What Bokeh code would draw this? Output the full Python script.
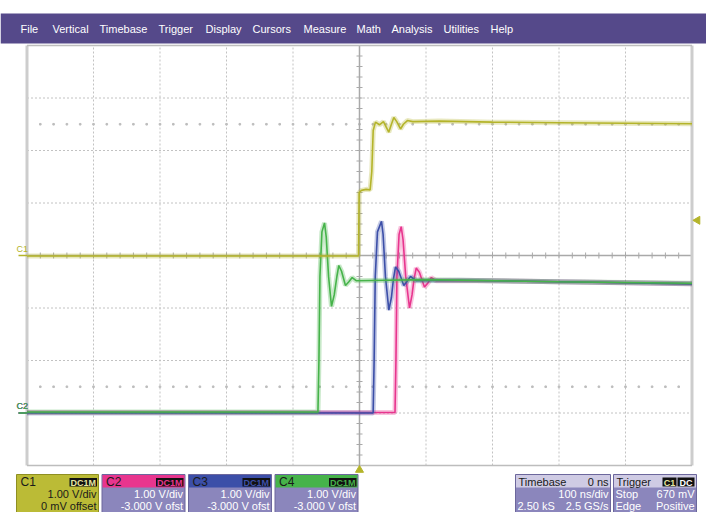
import math
from bokeh.plotting import figure
from bokeh.models import Range1d, Label
from bokeh.embed import file_html
from bokeh.resources import INLINE

# ---------------- data ----------------
ns_per_div = 100.0
volts_per_div = 1.0
n_xdiv = 10
n_ydiv = 8
offset_c1 = 0.0
offset_c234 = -3.0
trigger_level_v = 0.67
trigger_time_ns = 0.0

# C1 (yellow) time [ns] / volts
t_c1 = [-500, -1.5, -0.5, 3, 10, 16, 18.5, 20.6, 24, 30, 36, 40, 44, 48, 51.6, 56, 61.7, 66, 72, 80, 120, 200, 300, 400, 500]
v_c1 = [-0.01, -0.01, 1.20, 1.24, 1.26, 1.25, 1.60, 2.38, 2.54, 2.49, 2.55, 2.45, 2.35, 2.50, 2.63, 2.55, 2.41, 2.50, 2.57, 2.55, 2.56, 2.54, 2.53, 2.52, 2.51]

# C2 (pink)
t_c2 = [-500, 53.4, 54.8, 56.3, 59.5, 62.7, 65.5, 69.5, 75.2, 79, 82, 85.3, 90, 97.7, 102.5, 108, 115, 200, 350, 500]
v_c2 = [0.01, 0.01, 1.0, 2.6, 3.40, 3.55, 3.30, 2.60, 2.00, 2.25, 2.55, 2.76, 2.68, 2.40, 2.47, 2.58, 2.52, 2.52, 2.49, 2.46]

# C3 (blue)
t_c3 = [-500, 20.5, 22, 23.7, 27, 33.1, 35.5, 39, 44.1, 48, 51, 54.1, 59, 66.6, 71, 76.7, 85, 150, 350, 500]
v_c3 = [0.00, 0.00, 1.0, 2.6, 3.45, 3.65, 3.40, 2.60, 1.96, 2.20, 2.55, 2.78, 2.70, 2.43, 2.50, 2.60, 2.52, 2.53, 2.49, 2.46]

# C4 (green)
t_c4 = [-500, -62.5, -61, -59.5, -56.5, -52.6, -50, -46.5, -42.1, -38, -34, -31.1, -27, -21.1, -16, -11, -5, 100, 300, 500]
v_c4 = [0.02, 0.02, 1.0, 2.6, 3.45, 3.62, 3.35, 2.60, 2.03, 2.25, 2.60, 2.81, 2.70, 2.43, 2.50, 2.58, 2.52, 2.54, 2.50, 2.47]

menu_items = ["File", "Vertical", "Timebase", "Trigger", "Display", "Cursors",
              "Measure", "Math", "Analysis", "Utilities", "Help"]

ch_names = ["C1", "C2", "C3", "C4"]
ch_vdiv = ["1.00 V/div", "1.00 V/div", "1.00 V/div", "1.00 V/div"]
ch_offs = ["0 mV offset", "-3.000 V ofst", "-3.000 V ofst", "-3.000 V ofst"]
ch_coupling = ["DC1M", "DC1M", "DC1M", "DC1M"]
tb_texts = ["Timebase", "0 ns", "100 ns/div", "2.50 kS", "2.5 GS/s"]
trig_texts = ["Trigger", "C1", "DC", "Stop", "670 mV", "Edge", "Positive"]

# ---------------- layout ----------------
W, H = 706, 512
PX, PY = 0, 0          # page offset of the canvas
CX, CY = 359.0, 255.0  # position of grid centre
DX, DY = 66.5, 52.5    # pixels per division

FONT = "Liberation Sans"
YEL = "#b4b42a"
PINK = "#e8358e"
BLUE = "#3c4fa8"
GREEN = "#46b34a"
BODY = "#8b86bc"
HEAD = "#cfcbe4"
EDGE = "#6c679c"
MENU = "#55498a"

ROW2 = 493.5
ROW3 = 505.0


def tx(px):
    return (px - CX) / DX * ns_per_div


def ty(py):
    return (CY - py) / DY


p = figure(width=W, height=H, x_range=Range1d(tx(PX), tx(PX + W)),
           y_range=Range1d(ty(PY + H), ty(PY)),
           x_axis_type=None, y_axis_type=None, toolbar_location=None,
           output_backend="svg", min_border=0, outline_line_color=None,
           background_fill_color="white", border_fill_color="white")
p.title.visible = False


def lab(px, py, text, color="white", size=11, align="left", bold=False, baseline="middle"):
    p.add_layout(Label(x=tx(px), y=ty(py), text=text, text_color=color,
                       text_font=FONT, text_font_size=f"{size}px",
                       text_align=align, text_baseline=baseline,
                       text_font_style="bold" if bold else "normal"))


def box(x0, x1, y0, y1, fill, line=None, lw=1):
    p.quad(left=[tx(x0)], right=[tx(x1)], top=[ty(y0)], bottom=[ty(y1)],
           fill_color=fill, line_color=line, line_width=lw)


# ---------------- menu bar ----------------
box(0, 720, 13, 43, MENU)
menu_x = [20, 52, 99, 158, 205, 252, 303, 356, 391, 443, 490]
for mx, item in zip(menu_x, menu_items):
    lab(mx, 28.5, item, "white", 11)

# ---------------- grid ----------------
xl = -n_xdiv / 2 * ns_per_div
xr = n_xdiv / 2 * ns_per_div
yb = -n_ydiv / 2
yt = n_ydiv / 2
gx = [i * ns_per_div for i in range(-n_xdiv // 2 + 1, n_xdiv // 2) if i != 0]
gy = [j for j in range(-n_ydiv // 2 + 1, n_ydiv // 2) if j != 0]
p.segment(x0=gx, x1=gx, y0=[yb] * len(gx), y1=[yt] * len(gx),
          line_color="#c2c2c2", line_width=1, line_dash="2 2")
p.segment(x0=[xl] * len(gy), x1=[xr] * len(gy), y0=gy, y1=gy,
          line_color="#c2c2c2", line_width=1, line_dash="2 2")

# dotted reference rows at +/- 2.5 div
dots_t = [xl + k * ns_per_div / 5 for k in range(1, n_xdiv * 5)]
for lvl in (2.5, -2.5):
    p.scatter(x=dots_t, y=[lvl] * len(dots_t), size=1.6, color="#bdbdbd", marker="square")

# centre axes with minor ticks
p.segment(x0=[0], x1=[0], y0=[yb], y1=[yt], line_color="#a9a9a9", line_width=1.5)
p.segment(x0=[xl], x1=[xr], y0=[0], y1=[0], line_color="#a9a9a9", line_width=1.5)
mt = [xl + k * ns_per_div / 5 for k in range(1, n_xdiv * 5)]
p.segment(x0=mt, x1=mt, y0=[-3 / DY] * len(mt), y1=[3 / DY] * len(mt),
          line_color="#a9a9a9", line_width=1)
my = [yb + k / 5 for k in range(1, n_ydiv * 5)]
hw = 3 / DX * ns_per_div
p.segment(x0=[-hw] * len(my), x1=[hw] * len(my), y0=my, y1=my,
          line_color="#a9a9a9", line_width=1)

# frame
p.segment(x0=[xl, xr], x1=[xl, xr], y0=[yb, yb], y1=[yt, yt], line_color="#cdcdcd", line_width=3)
p.segment(x0=[xl, xl], x1=[xr, xr], y0=[yb, yt], y1=[yb, yt], line_color="#bdbdbd", line_width=1.5)

# ---------------- traces ----------------
def trace(t, v, off, color):
    y = [vv / volts_per_div + off / volts_per_div for vv in v]
    p.line(t, y, line_color=color, line_width=5, line_alpha=0.30)
    p.line(t, y, line_color=color, line_width=1.6)


trace(t_c2, v_c2, offset_c234, PINK)
trace(t_c3, v_c3, offset_c234, BLUE)
trace(t_c4, v_c4, offset_c234, GREEN)
trace(t_c1, v_c1, offset_c1, YEL)

# channel ground markers at left
for name, off, col in [("C2", offset_c234, PINK), ("C3", offset_c234, BLUE),
                       ("C4", offset_c234, GREEN), ("C1", offset_c1, YEL)]:
    yy = off / volts_per_div
    p.segment(x0=[tx(18)], x1=[xl], y0=[yy], y1=[yy], line_color=col, line_width=1.5)
    lab(16, CY - yy * DY - 7, name if name in ("C1",) else "C2", col, 9)

# trigger markers
p.scatter(x=[tx(697)], y=[trigger_level_v / volts_per_div], marker="triangle",
          angle=math.pi / 2, size=8, color=YEL)
p.scatter(x=[trigger_time_ns], y=[ty(469.5)], marker="triangle", size=8, color=YEL)

# ---------------- channel info boxes ----------------
boxes_x = [(16, 98), (101.5, 184.5), (188, 271), (274.5, 357.5)]
head_cols = [YEL, PINK, BLUE, GREEN]
for i, (x0, x1) in enumerate(boxes_x):
    if i == 0:
        box(x0, x1, 474, 520, "#bbbb36", "#8f8f22", 1)
        tcol = "#1a1a1a"
        badge_txt = "#e6e6a0"
    else:
        box(x0, x1, 474, 520, BODY, EDGE, 1)
        box(x0 + 0.5, x1 - 0.5, 474.5, 487, head_cols[i], None)
        tcol = "white"
        badge_txt = head_cols[i]
    lab(x0 + 4, 481, ch_names[i], "#1a1a1a", 12)
    box(x1 - 29, x1 - 1.5, 477.5, 486, "#111111", None)
    lab(x1 - 15.3, 482, ch_coupling[i], badge_txt, 9, "center", True)
    lab(x1 - 2, ROW2, ch_vdiv[i], tcol, 11, "right")
    lab(x1 - 2, ROW3, ch_offs[i], tcol, 11, "right")

# timebase box
box(515, 610, 474, 520, BODY, EDGE, 1)
box(515.5, 609.5, 474.5, 487, HEAD, None)
lab(518, 481, tb_texts[0], "#1a1a1a", 11)
lab(608, 481, tb_texts[1], "#1a1a1a", 11, "right")
lab(608, ROW2, tb_texts[2], "white", 11, "right")
lab(517, ROW3, tb_texts[3], "white", 11)
lab(608, ROW3, tb_texts[4], "white", 11, "right")

# trigger box
box(613, 696, 474, 520, BODY, EDGE, 1)
box(613.5, 695.5, 474.5, 487, HEAD, None)
lab(616, 481, trig_texts[0], "#1a1a1a", 11)
box(662, 676, 477, 486, "#111111", None)
lab(669, 482, trig_texts[1], "#e6e6a0", 9, "center", True)
box(677, 694, 477, 486, "#111111", None)
lab(685.5, 482, trig_texts[2], "white", 9, "center", True)
lab(615, ROW2, trig_texts[3], "white", 11)
lab(694, ROW2, trig_texts[4], "white", 11, "right")
lab(615, ROW3, trig_texts[5], "white", 11)
lab(694, ROW3, trig_texts[6], "white", 11, "right")

open("out.html", "w").write(file_html(p, INLINE))
